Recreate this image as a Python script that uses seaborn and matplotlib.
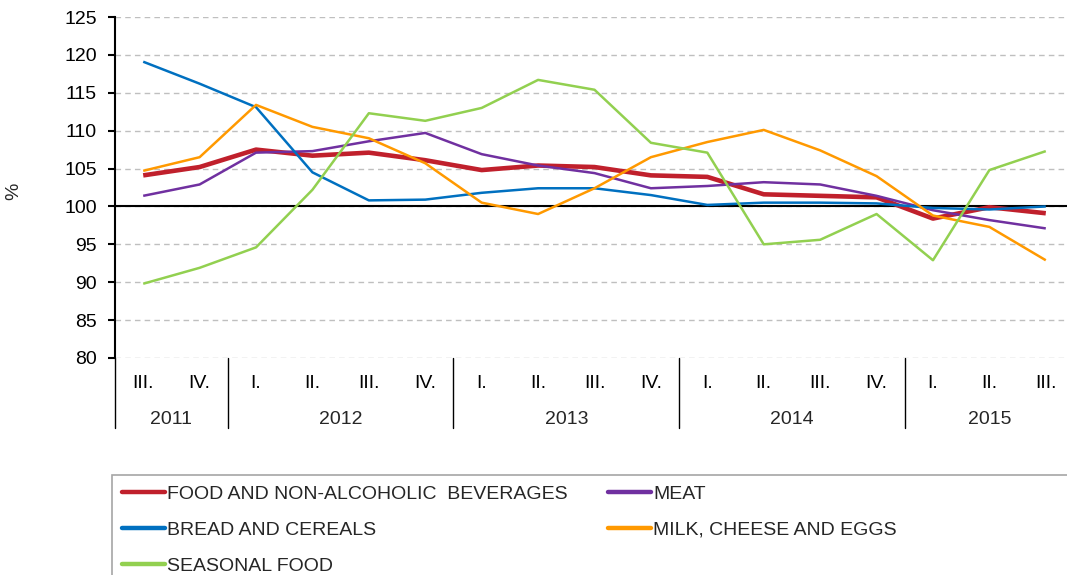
import numpy as np
import pandas as pd
import matplotlib
matplotlib.use("Agg")
import matplotlib.pyplot as plt
from matplotlib.lines import Line2D
from matplotlib.patches import Rectangle
import seaborn as sns

# ---------------- data ----------------
quarters = ["III.", "IV.", "I.", "II.", "III.", "IV.", "I.", "II.", "III.", "IV.",
            "I.", "II.", "III.", "IV.", "I.", "II.", "III."]
years = ["2011", "2012", "2013", "2014", "2015"]
year_counts = [2, 4, 4, 4, 3]

food = [104.1, 105.2, 107.5, 106.7, 107.1, 106.1, 104.8, 105.4, 105.2, 104.1,
        103.9, 101.6, 101.4, 101.2, 98.4, 99.9, 99.1]
meat = [101.4, 102.9, 107.1, 107.3, 108.6, 109.7, 106.9, 105.4, 104.4, 102.4,
        102.7, 103.2, 102.9, 101.4, 99.5, 98.2, 97.1]
bread = [119.1, 116.2, 113.1, 104.5, 100.8, 100.9, 101.8, 102.4, 102.4, 101.5,
         100.2, 100.5, 100.5, 100.4, 99.8, 99.6, 100.0]
milk = [104.7, 106.5, 113.4, 110.5, 109.0, 105.7, 100.5, 99.0, 102.4, 106.5,
        108.5, 110.1, 107.4, 104.0, 98.8, 97.3, 92.9]
seasonal = [89.8, 91.9, 94.6, 102.2, 112.3, 111.3, 113.0, 116.7, 115.4, 108.4,
            107.1, 95.0, 95.6, 99.0, 92.9, 104.8, 107.3]

series_names = ["FOOD AND NON-ALCOHOLIC  BEVERAGES", "MEAT", "BREAD AND CEREALS",
                "MILK, CHEESE AND EGGS", "SEASONAL FOOD"]
series_values = [food, meat, bread, milk, seasonal]
colors = ["#C0202C", "#7030A0", "#0070C0", "#FF9900", "#92D050"]
widths = [3.3, 1.8, 1.8, 1.8, 1.8]

# ---------------- style ----------------
sns.set_theme(style="white")
plt.rcParams["font.family"] = ["Liberation Sans", "DejaVu Sans"]
plt.rcParams["font.size"] = 14

W, H = 1067, 575
fig = plt.figure(figsize=(W / 100, H / 100), dpi=100)
ax = fig.add_axes([115 / W, 1 - 358 / H, (1074 - 115) / W, (358 - 17) / H])

pos = np.arange(len(quarters))
for name, vals, c, lw in zip(series_names, series_values, colors, widths):
    df = pd.DataFrame({"pos": pos, "value": vals})
    sns.lineplot(data=df, x="pos", y="value", color=c, linewidth=lw, ax=ax,
                 legend=False, solid_capstyle="butt")

ax.set_xlim(-0.5, len(quarters) - 0.5)
ax.set_ylim(80, 125)
ax.set_yticks(np.arange(80, 126, 5))
ax.yaxis.grid(True, linestyle=(0, (4, 3)), color="#BFBFBF", linewidth=1)
ax.set_axisbelow(True)
ax.axhline(100, color="black", linewidth=1.5, zorder=1.5)

for s in ["top", "right", "bottom"]:
    ax.spines[s].set_visible(False)
ax.spines["left"].set_color("black")
ax.spines["left"].set_linewidth(1.5)

ax.tick_params(axis="y", left=True, length=5, width=1.5, direction="out",
               pad=8, labelsize=14, colors="black")
ax.set_xticks(pos)
ax.set_xticklabels(quarters, fontsize=14)
ax.tick_params(axis="x", length=0, pad=12, colors="black")
ax.set_xlabel("")
ax.set_ylabel("%", fontsize=14)
ax.yaxis.set_label_coords(-0.097, 0.49)

# year groups
trans = ax.get_xaxis_transform()
boundaries = np.concatenate([[0], np.cumsum(year_counts)]) - 0.5
for b in boundaries[:-1]:
    ax.add_line(Line2D([b, b], [0, -70 / 341], transform=trans, color="black",
                       linewidth=1, clip_on=False))
for y, start, cnt in zip(years, boundaries[:-1], year_counts):
    ax.annotate(y, xy=(start + cnt / 2, 0), xycoords=trans, xytext=(0, -44),
                textcoords="offset points", ha="center", va="center", fontsize=14)

# legend
fig.patches.append(Rectangle((112 / W, -0.1), 1.0, (1 - 475 / H) + 0.1,
                             transform=fig.transFigure, fill=False,
                             edgecolor="#A6A6A6", linewidth=1.2))
order = [0, 2, 4, 1, 3]
handles = [Line2D([0], [0], color=colors[i], linewidth=3.2) for i in order]
labels = [series_names[i] for i in order]
fig.legend(handles, labels, ncol=2, loc="upper left",
           bbox_to_anchor=(122 / W, 1 - 485 / H), frameon=False,
           borderpad=0, borderaxespad=0, handlelength=2.2, handletextpad=0.1,
           columnspacing=2.1, labelspacing=0.95, fontsize=14)

fig.savefig("out.png", dpi=100)
